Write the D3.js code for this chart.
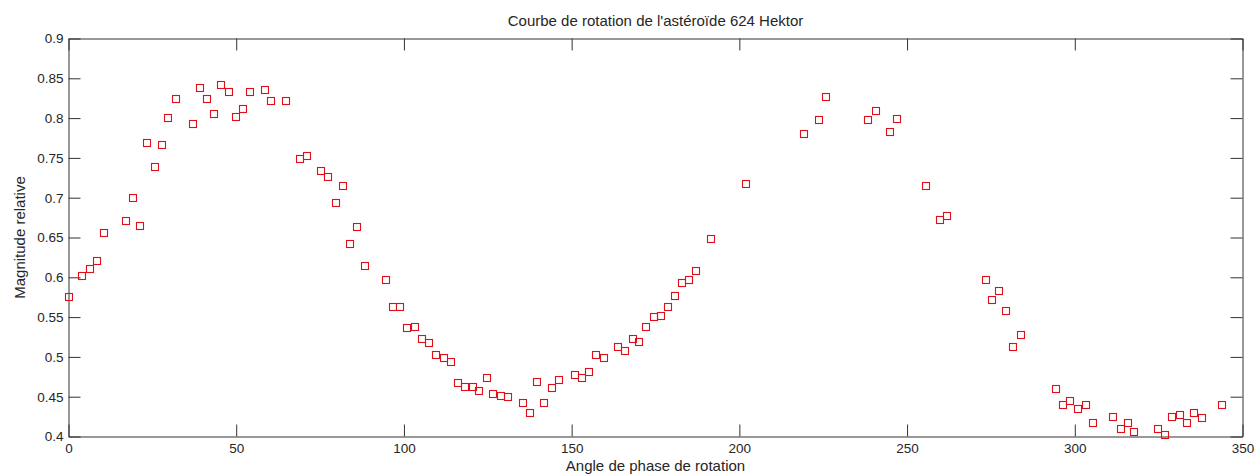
<!DOCTYPE html>
<html>
<head>
<meta charset="utf-8">
<script src="https://cdn.jsdelivr.net/npm/d3@7"></script>
<style>
  html, body { margin: 0; padding: 0; background: #fff; }
  svg { display: block; }
  text { font-family: "Liberation Sans", Arial, Helvetica, sans-serif; fill: #262626; }
</style>
</head>
<body>
<svg id="chart" width="1257" height="476"></svg>
<script>
// Rotation phase angle (degrees) of each photometric measurement
const angles = [
  0, 4, 6.4, 8.4, 10.7, 17.1, 19.1, 21.3, 23.4, 25.7,
  27.8, 29.7, 32.1, 37, 39.1, 41.4, 43.3, 45.5, 47.8, 49.8,
  52.1, 54.2, 58.5, 60.4, 64.9, 69.1, 71.2, 75.2, 77.5, 79.6,
  81.8, 83.8, 86, 88.3, 94.7, 96.7, 98.9, 101, 103.3, 105.5,
  107.5, 109.6, 111.8, 114.1, 116.1, 118.3, 120.5, 122.5, 124.7, 126.7,
  128.9, 131.1, 135.4, 137.5, 139.7, 141.8, 144, 146.1, 150.9, 153.2,
  155.2, 157.3, 159.5, 163.8, 165.9, 168.2, 170.2, 172.2, 174.5, 176.5,
  178.7, 180.7, 182.9, 185.1, 187.2, 191.4, 202.1, 219.2, 223.6, 225.7,
  238.5, 240.6, 244.8, 247.1, 255.5, 259.8, 262, 273.4, 275.2, 277.5,
  279.6, 281.7, 284, 294.5, 296.5, 298.7, 300.9, 303.2, 305.3, 311.5,
  313.9, 315.8, 317.8, 324.7, 326.9, 329.1, 331.4, 333.4, 335.4, 337.8,
  344
];

// Relative magnitude measured at each angle
const magnitudes = [
  0.575, 0.602, 0.610, 0.621, 0.656, 0.671, 0.700, 0.665, 0.769, 0.738,
  0.766, 0.800, 0.824, 0.792, 0.838, 0.824, 0.805, 0.841, 0.833, 0.801,
  0.811, 0.833, 0.835, 0.822, 0.822, 0.749, 0.753, 0.733, 0.726, 0.693,
  0.715, 0.642, 0.663, 0.614, 0.597, 0.563, 0.563, 0.536, 0.537, 0.523,
  0.517, 0.503, 0.499, 0.493, 0.467, 0.462, 0.462, 0.457, 0.474, 0.454,
  0.451, 0.450, 0.442, 0.429, 0.469, 0.442, 0.461, 0.471, 0.477, 0.474,
  0.481, 0.502, 0.499, 0.513, 0.507, 0.523, 0.519, 0.538, 0.550, 0.552,
  0.563, 0.576, 0.593, 0.597, 0.608, 0.648, 0.717, 0.780, 0.798, 0.826,
  0.797, 0.809, 0.783, 0.799, 0.715, 0.672, 0.6775, 0.597, 0.572, 0.583,
  0.558, 0.513, 0.527, 0.460, 0.440, 0.445, 0.434, 0.439, 0.417, 0.424,
  0.409, 0.417, 0.406, 0.410, 0.4025, 0.425, 0.4265, 0.417, 0.429, 0.4235,
  0.439
];

const xTicks = [0, 50, 100, 150, 200, 250, 300, 350];
const yTicks = [0.4, 0.45, 0.5, 0.55, 0.6, 0.65, 0.7, 0.75, 0.8, 0.85, 0.9];

const titleText = "Courbe de rotation de l'astéroïde 624 Hektor";
const xLabel = "Angle de phase de rotation";
const yLabel = "Magnitude relative";

const points = angles.map((a, i) => ({ angle: a, mag: magnitudes[i] }));

const svg = d3.select("#chart");
const plotLeft = 68.5, plotRight = 1242.5, plotTop = 38.5, plotBottom = 436.5;
const tickLen = 12;
const axisColor = "#333";

const x = d3.scaleLinear().domain([0, 350]).range([plotLeft, plotRight]);
const y = d3.scaleLinear().domain([0.4, 0.9]).range([plotBottom, plotTop]);

function styleAxis(g) {
  g.selectAll("path.domain").attr("stroke", axisColor);
  g.selectAll(".tick line").attr("stroke", axisColor);
  g.selectAll(".tick text")
    .attr("fill", "#262626")
    .style("font-family", '"Liberation Sans", Arial, sans-serif')
    .style("font-size", "13.5px");
}

// Bottom axis with inward ticks and labels
svg.append("g")
  .attr("transform", `translate(0,${plotBottom})`)
  .call(d3.axisBottom(x).tickValues(xTicks).tickFormat(d3.format("d"))
    .tickSizeInner(-tickLen).tickSizeOuter(0).tickPadding(7))
  .call(styleAxis);

// Top axis: mirrored ticks only
svg.append("g")
  .attr("transform", `translate(0,${plotTop})`)
  .call(d3.axisTop(x).tickValues(xTicks).tickFormat("")
    .tickSizeInner(-tickLen).tickSizeOuter(0))
  .call(styleAxis);

// Left axis with labels
svg.append("g")
  .attr("transform", `translate(${plotLeft},0)`)
  .call(d3.axisLeft(y).tickValues(yTicks).tickFormat(d => String(+d.toFixed(2)))
    .tickSizeInner(-tickLen).tickSizeOuter(0).tickPadding(5))
  .call(styleAxis);

// Right axis: mirrored ticks only
svg.append("g")
  .attr("transform", `translate(${plotRight},0)`)
  .call(d3.axisRight(y).tickValues(yTicks).tickFormat("")
    .tickSizeInner(-tickLen).tickSizeOuter(0))
  .call(styleAxis);

// Square markers
const s = 7;
svg.append("g")
  .selectAll("rect")
  .data(points)
  .join("rect")
  .attr("x", d => Math.round(x(d.angle)) - s / 2)
  .attr("y", d => Math.round(y(d.mag)) - s / 2)
  .attr("width", s)
  .attr("height", s)
  .attr("fill", "none")
  .attr("stroke", "#e0101a")
  .attr("stroke-width", 1.1);

// Title and axis labels
svg.append("text")
  .attr("x", (plotLeft + plotRight) / 2)
  .attr("y", 26)
  .attr("text-anchor", "middle")
  .style("font-size", "15px")
  .text(titleText);

svg.append("text")
  .attr("x", (plotLeft + plotRight) / 2)
  .attr("y", 471)
  .attr("text-anchor", "middle")
  .style("font-size", "15px")
  .text(xLabel);

svg.append("text")
  .attr("transform", `translate(25,${(plotTop + plotBottom) / 2}) rotate(-90)`)
  .attr("text-anchor", "middle")
  .style("font-size", "15px")
  .text(yLabel);
</script>
</body>
</html>
